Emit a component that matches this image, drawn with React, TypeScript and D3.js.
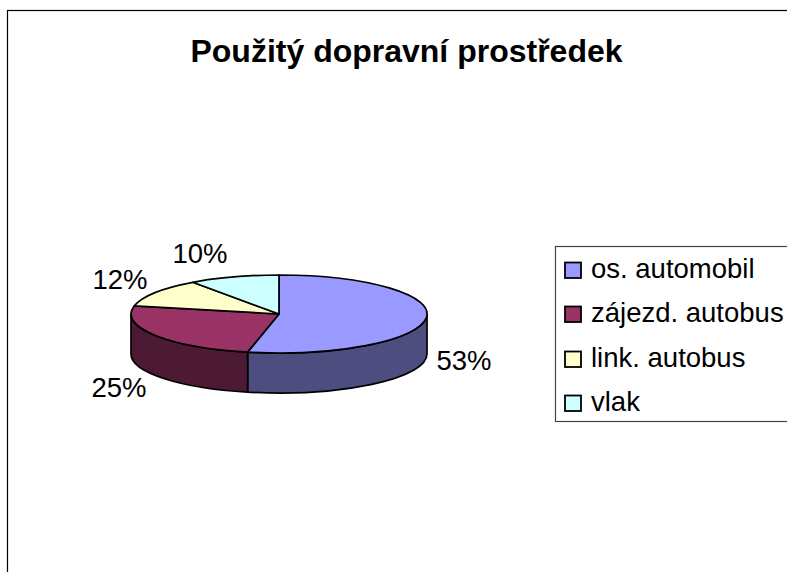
import React from "react";
import * as d3 from "d3";

const title = "Použitý dopravní prostředek";
const categories = ["os. automobil", "zájezd. autobus", "link. autobus", "vlak"];
const values = [53.4, 24.9, 11.8, 9.9];
const topColors = ["#9999FF", "#993366", "#FFFFCC", "#CCFFFF"];
const sideColors = ["#4D4D80", "#4D1A33", "#808066", "#668080"];
const labelPositions = [
  { x: 464, y: 370 },
  { x: 119, y: 397 },
  { x: 120, y: 289 },
  { x: 200, y: 263 },
];
const legendBaselines = [278, 322, 367, 411];

const W = 787;
const H = 572;
const cx = 279;
const cy = 314;
const rx = 148;
const ry = 39;
const depth = 40;

const pt = (a: number, dy = 0): [number, number] => [
  cx + rx * Math.sin(a),
  cy - ry * Math.cos(a) + dy,
];
const f = (p: [number, number]) => `${p[0].toFixed(2)},${p[1].toFixed(2)}`;

export default function App() {
  const arcs = d3
    .pie<number>()
    .sort(null)
    .value((d) => d)(values);
  const total = d3.sum(values);
  const pct = d3.format(".0%");

  const sides = arcs
    .map((arc, i) => {
      // only the front half of the ellipse (90deg to 270deg) is visible
      const a0 = Math.max(arc.startAngle, Math.PI / 2);
      const a1 = Math.min(arc.endAngle, (3 * Math.PI) / 2);
      if (a1 <= a0) return null;
      const d = [
        `M${f(pt(a0))}`,
        `A${rx},${ry} 0 0 1 ${f(pt(a1))}`,
        `L${f(pt(a1, depth))}`,
        `A${rx},${ry} 0 0 0 ${f(pt(a0, depth))}`,
        "Z",
      ].join(" ");
      return { d, color: sideColors[i], key: i };
    })
    .filter(Boolean) as { d: string; color: string; key: number }[];

  return (
    <svg
      width={W}
      height={H}
      viewBox={`0 0 ${W} ${H}`}
      style={{ position: "fixed", left: 0, top: 0, fontFamily: "'Liberation Sans', Arial, sans-serif" }}
    >
      <rect x={0} y={0} width={W} height={H} fill="#fff" />
      <rect x={7.5} y={10.5} width={W + 20} height={H + 20} fill="#fff" stroke="#000" strokeWidth={1.2} />
      <text x={406.5} y={62} textAnchor="middle" fontSize={32} fontWeight="bold" fill="#000">
        {title}
      </text>

      {sides.map((s) => (
        <path key={s.key} d={s.d} fill={s.color} stroke="#000" strokeWidth={1.7} strokeLinejoin="round" />
      ))}
      {arcs.map((arc, i) => {
        const large = arc.endAngle - arc.startAngle > Math.PI ? 1 : 0;
        const d = `M${cx},${cy} L${f(pt(arc.startAngle))} A${rx},${ry} 0 ${large} 1 ${f(pt(arc.endAngle))} Z`;
        return <path key={i} d={d} fill={topColors[i]} stroke="#000" strokeWidth={1.7} strokeLinejoin="round" />;
      })}
      {arcs.map((arc, i) => (
        <text key={i} x={labelPositions[i].x} y={labelPositions[i].y} textAnchor="middle" fontSize={27.5} fill="#000">
          {pct(values[i] / total)}
        </text>
      ))}

      <rect x={555.5} y={246.5} width={W} height={175} fill="#fff" stroke="#444" strokeWidth={1.2} />
      {categories.map((c, i) => (
        <g key={c}>
          <rect
            x={565}
            y={legendBaselines[i] - 15.5}
            width={16}
            height={15.5}
            fill={topColors[i]}
            stroke="#000"
            strokeWidth={1.8}
          />
          <text x={591} y={legendBaselines[i]} fontSize={27.5} fill="#000">
            {c}
          </text>
        </g>
      ))}
    </svg>
  );
}
